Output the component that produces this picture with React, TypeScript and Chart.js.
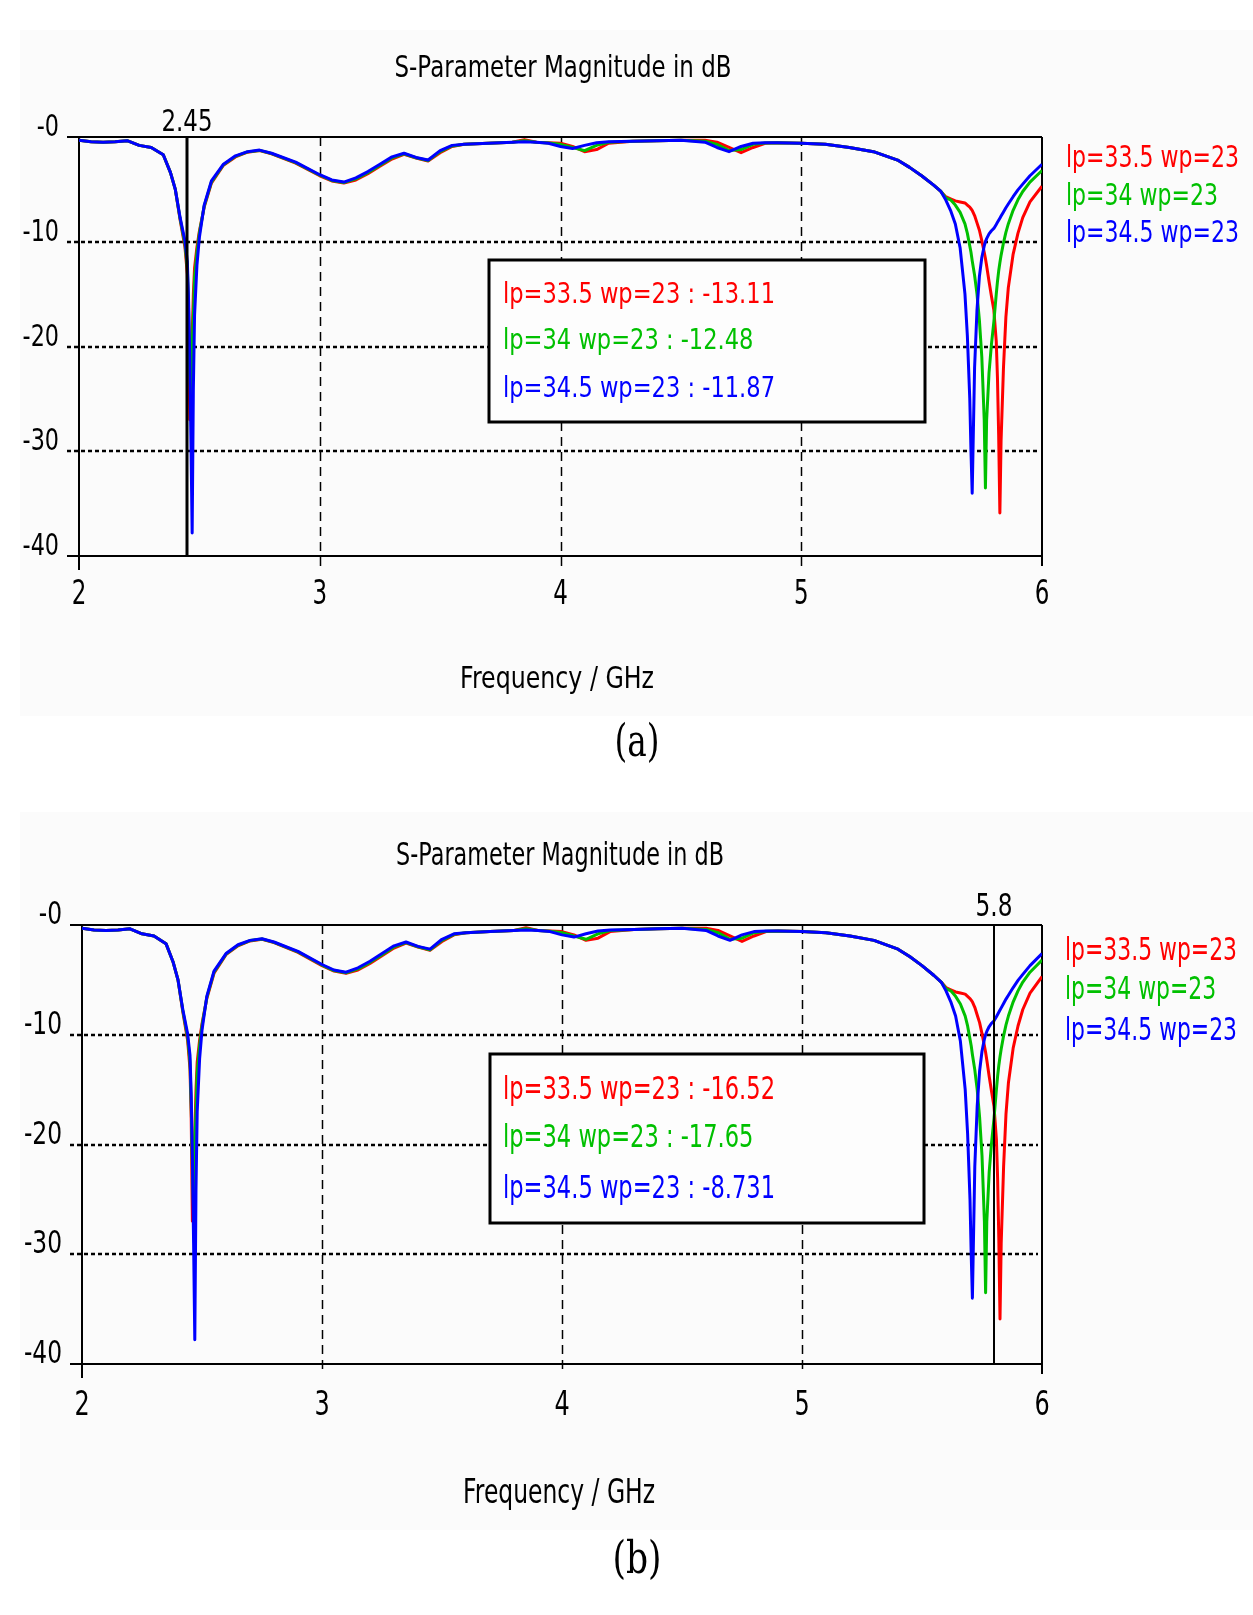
import { useEffect, useRef } from "react";
import { Chart, registerables } from "chart.js";

Chart.register(...registerables);

// Frequency sweep (GHz)
const freqGHz = [
  2.0, 2.05, 2.1, 2.15, 2.2, 2.25, 2.3, 2.35, 2.38, 2.4,
  2.42, 2.44, 2.45, 2.455, 2.46, 2.465, 2.47, 2.475, 2.48, 2.49,
  2.5, 2.52, 2.55, 2.6, 2.65, 2.7, 2.75, 2.8, 2.9, 3.0,
  3.05, 3.1, 3.15, 3.2, 3.25, 3.3, 3.35, 3.4, 3.45, 3.5,
  3.55, 3.6, 3.7, 3.8, 3.85, 3.9, 3.95, 4.0, 4.05, 4.1,
  4.15, 4.2, 4.3, 4.4, 4.5, 4.6, 4.65, 4.7, 4.75, 4.8,
  4.85, 4.9, 5.0, 5.1, 5.2, 5.3, 5.4, 5.45, 5.5, 5.55,
  5.58, 5.6, 5.62, 5.64, 5.66, 5.68, 5.69, 5.7, 5.705, 5.71,
  5.72, 5.73, 5.74, 5.75, 5.76, 5.765, 5.77, 5.78, 5.79, 5.8,
  5.81, 5.815, 5.82, 5.825, 5.83, 5.84, 5.85, 5.86, 5.88, 5.9,
  5.92, 5.95, 6.0,
];

// |S11| in dB, lp = 33.5 mm
const s11Lp335 = [
  -0.3, -0.45, -0.5, -0.45, -0.35, -0.8, -1.0, -1.7, -3.4, -5.0,
  -7.9, -10.5, -13.11, -17.5, -27.0, -23.0, -19.0, -15.0, -12.5, -10.5,
  -9.0, -6.7, -4.4, -2.7, -1.9, -1.45, -1.3, -1.6, -2.5, -3.7,
  -4.2, -4.4, -4.1, -3.5, -2.8, -2.1, -1.65, -2.0, -2.3, -1.5,
  -0.9, -0.7, -0.6, -0.5, -0.25, -0.5, -0.55, -0.6, -0.9, -1.4,
  -1.2, -0.6, -0.4, -0.35, -0.3, -0.3, -0.5, -1.0, -1.5, -1.0,
  -0.6, -0.55, -0.6, -0.7, -1.0, -1.4, -2.2, -2.9, -3.7, -4.6,
  -5.2, -5.7, -5.9, -6.1, -6.2, -6.3, -6.5, -6.7, -6.85, -7.0,
  -7.5, -8.2, -8.9, -9.9, -11.0, -11.6, -12.3, -13.8, -15.2, -16.52,
  -19.5, -23.0, -28.5, -35.9, -29.0, -22.0, -17.2, -14.4, -11.2, -9.2,
  -7.7, -6.2, -4.7,
];

// |S11| in dB, lp = 34 mm
const s11Lp34 = [
  -0.3, -0.45, -0.5, -0.45, -0.35, -0.8, -1.0, -1.7, -3.4, -5.0,
  -7.8, -10.2, -12.48, -16.3, -22.0, -26.0, -20.0, -17.0, -13.5, -11.0,
  -9.2, -6.6, -4.3, -2.65, -1.85, -1.42, -1.28, -1.58, -2.45, -3.65,
  -4.15, -4.35, -4.0, -3.4, -2.7, -2.0, -1.6, -1.98, -2.25, -1.4,
  -0.85, -0.7, -0.6, -0.5, -0.35, -0.5, -0.58, -0.7, -1.0, -1.3,
  -0.8, -0.5, -0.4, -0.35, -0.3, -0.4, -0.7, -1.3, -1.2, -0.7,
  -0.58, -0.55, -0.6, -0.7, -1.0, -1.4, -2.2, -2.9, -3.7, -4.6,
  -5.2, -5.8, -6.0, -6.5, -7.2, -8.3, -9.2, -10.4, -11.0, -11.8,
  -13.2, -15.0, -17.5, -21.0, -27.0, -33.5, -27.0, -22.5, -19.8, -17.65,
  -15.0, -13.8, -12.8, -12.0, -11.3, -10.1, -9.1, -8.3, -7.0, -6.0,
  -5.2, -4.3, -3.2,
];

// |S11| in dB, lp = 34.5 mm
const s11Lp345 = [
  -0.3, -0.45, -0.5, -0.45, -0.35, -0.8, -1.0, -1.7, -3.4, -5.0,
  -7.7, -9.9, -11.87, -15.5, -21.0, -29.0, -37.8, -24.0, -17.0, -12.2,
  -9.6, -6.5, -4.2, -2.6, -1.8, -1.4, -1.25, -1.55, -2.4, -3.6,
  -4.1, -4.3, -3.9, -3.3, -2.6, -1.9, -1.55, -1.95, -2.2, -1.3,
  -0.8, -0.7, -0.6, -0.5, -0.45, -0.5, -0.6, -0.9, -1.1, -0.8,
  -0.55, -0.45, -0.4, -0.35, -0.3, -0.5, -1.0, -1.4, -0.9, -0.6,
  -0.55, -0.55, -0.6, -0.7, -1.0, -1.4, -2.2, -2.9, -3.7, -4.6,
  -5.2, -6.0, -7.0, -8.3, -10.6, -15.0, -19.0, -25.0, -30.0, -34.0,
  -22.0, -16.5, -13.3, -11.5, -10.4, -10.0, -9.7, -9.25, -8.95, -8.731,
  -8.35, -8.15, -7.95, -7.75, -7.55, -7.15, -6.75, -6.4, -5.7, -5.05,
  -4.5, -3.7, -2.6,
];

const seriesNames = ["lp=33.5 wp=23", "lp=34 wp=23", "lp=34.5 wp=23"];
const seriesColors = ["#ff0000", "#00c000", "#0000ff"];

const xTicks = [2, 3, 4, 5, 6];
const xTickLabels = ["2", "3", "4", "5", "6"];
const yTicks = [0, -10, -20, -30, -40];
const yTickLabels = ["-0", "-10", "-20", "-30", "-40"];

const chartTitle = "S-Parameter Magnitude in dB";
const xAxisTitle = "Frequency / GHz";

// Marker readouts
const markerFreqA = 2.45;
const markerValuesA = [-13.11, -12.48, -11.87];
const markerFreqB = 5.8;
const markerValuesB = [-16.52, -17.65, -8.731];

const seriesValues = [s11Lp335, s11Lp34, s11Lp345];

type Align = "left" | "center" | "right";

// Draws text with a tall, narrow look: font size set by cap height, then
// squeezed horizontally either to a target width or by a fixed factor.
function drawText(
  ctx: CanvasRenderingContext2D,
  text: string,
  x: number,
  baseline: number,
  capH: number,
  o: { width?: number; sx?: number; align: Align; color: string; family?: string }
): number {
  const family = o.family ?? '"DejaVu Sans", sans-serif';
  const size = capH / 0.73;
  ctx.font = `${size}px ${family}`;
  const w = ctx.measureText(text).width;
  const sx = o.width ? o.width / w : o.sx ?? 1;
  const dw = w * sx;
  let x0 = x;
  if (o.align === "center") x0 = x - dw / 2;
  else if (o.align === "right") x0 = x - dw;
  ctx.save();
  ctx.translate(x0, baseline);
  ctx.scale(sx, 1);
  ctx.fillStyle = o.color;
  ctx.textAlign = "left";
  ctx.textBaseline = "alphabetic";
  ctx.fillText(text, 0, 0);
  ctx.restore();
  return sx;
}

type PanelLayout = {
  top: number;
  height: number;
  padding: { left: number; right: number; top: number; bottom: number };
  tickLeft: number;
  panelRect: [number, number, number, number];
  title: { x: number; y: number; capH: number; width: number };
  yLabelRight: number;
  yCapH: number;
  xLabelBaseline: number;
  xCapH: number;
  axisTitle: { x: number; y: number; capH: number; width: number };
  marker: { freq: number; values: number[]; labelY: number; capH: number; width: number; lineWidth: number };
  legend: { x: number; ys: number[]; capH: number; width: number };
  box: { x: number; y: number; w: number; h: number; textX: number; ys: number[]; capH: number; width: number };
  caption: { text: string; x: number; y: number; capH: number; width: number };
};

const panels: PanelLayout[] = [
  {
    top: 0,
    height: 785,
    padding: { left: 79, right: 211, top: 137, bottom: 229 },
    tickLeft: 67,
    panelRect: [20, 30, 1233, 686],
    title: { x: 563, y: 77, capH: 22, width: 337 },
    yLabelRight: 59,
    yCapH: 22,
    xLabelBaseline: 604,
    xCapH: 24,
    axisTitle: { x: 557, y: 688, capH: 22, width: 194 },
    marker: { freq: markerFreqA, values: markerValuesA, labelY: 131, capH: 22, width: 51, lineWidth: 3 },
    legend: { x: 1066, ys: [167, 205, 242], capH: 22, width: 173 },
    box: { x: 489, y: 260, w: 436, h: 162, textX: 503, ys: [303, 349, 397], capH: 21, width: 272 },
    caption: { text: "(a)", x: 637, y: 756, capH: 33, width: 45 },
  },
  {
    top: 785,
    height: 830,
    padding: { left: 82, right: 211, top: 140, bottom: 251 },
    tickLeft: 70,
    panelRect: [20, 27, 1233, 718],
    title: { x: 560, y: 80, capH: 23, width: 328 },
    yLabelRight: 62,
    yCapH: 23,
    xLabelBaseline: 630,
    xCapH: 25,
    axisTitle: { x: 559, y: 718, capH: 24, width: 192 },
    marker: { freq: markerFreqB, values: markerValuesB, labelY: 131, capH: 23, width: 37, lineWidth: 2 },
    legend: { x: 1065, ys: [175, 214, 255], capH: 23, width: 172 },
    box: { x: 490, y: 269, w: 434, h: 169, textX: 503, ys: [314, 362, 413], capH: 23, width: 272 },
    caption: { text: "(b)", x: 637, y: 788, capH: 33, width: 49 },
  },
];

function makeDecorPlugin(p: PanelLayout) {
  return {
    id: "sparamDecor",
    beforeDraw(chart: any) {
      const ctx: CanvasRenderingContext2D = chart.ctx;
      ctx.save();
      ctx.fillStyle = "#ffffff";
      ctx.fillRect(0, 0, chart.width, chart.height);
      ctx.fillStyle = "#fbfbfb";
      const [rx, ry, rw, rh] = p.panelRect;
      ctx.fillRect(rx, ry, rw, rh);
      ctx.restore();
    },
    beforeDatasetsDraw(chart: any) {
      const ctx: CanvasRenderingContext2D = chart.ctx;
      const xs = chart.scales.x;
      const ys = chart.scales.y;
      const { left, right, top, bottom } = chart.chartArea;
      ctx.save();
      ctx.strokeStyle = "#000000";
      // horizontal grid: dotted
      ctx.lineWidth = 2.5;
      ctx.setLineDash([4, 3]);
      yTicks.slice(1, -1).forEach((v) => {
        const y = Math.round(ys.getPixelForValue(v));
        ctx.beginPath();
        ctx.moveTo(p.tickLeft, y);
        ctx.lineTo(right - 4, y);
        ctx.stroke();
      });
      // vertical grid: dashed
      ctx.lineWidth = 1.5;
      ctx.setLineDash([9, 6]);
      xTicks.slice(1, -1).forEach((v) => {
        const x = Math.round(xs.getPixelForValue(v)) + 0.5;
        ctx.beginPath();
        ctx.moveTo(x, top);
        ctx.lineTo(x, bottom + 10);
        ctx.stroke();
      });
      // frame
      ctx.setLineDash([]);
      ctx.lineWidth = 2;
      ctx.beginPath();
      ctx.moveTo(p.tickLeft, top);
      ctx.lineTo(right, top);
      ctx.moveTo(p.tickLeft, bottom);
      ctx.lineTo(right, bottom);
      ctx.moveTo(left, top);
      ctx.lineTo(left, bottom + 14);
      ctx.moveTo(right, top);
      ctx.lineTo(right, bottom + 10);
      ctx.stroke();
      ctx.restore();
    },
    afterDatasetsDraw(chart: any) {
      const ctx: CanvasRenderingContext2D = chart.ctx;
      const xs = chart.scales.x;
      const ys = chart.scales.y;
      const { top, bottom } = chart.chartArea;

      // marker line
      const mx = Math.round(xs.getPixelForValue(p.marker.freq));
      ctx.save();
      ctx.strokeStyle = "#000000";
      ctx.lineWidth = p.marker.lineWidth;
      ctx.beginPath();
      ctx.moveTo(mx, top);
      ctx.lineTo(mx, bottom);
      ctx.stroke();
      ctx.restore();
      drawText(ctx, String(p.marker.freq), mx, p.marker.labelY, p.marker.capH, {
        width: p.marker.width,
        align: "center",
        color: "#000000",
      });

      // marker readout box
      ctx.save();
      ctx.fillStyle = "#fdfdfd";
      ctx.fillRect(p.box.x, p.box.y, p.box.w, p.box.h);
      ctx.strokeStyle = "#000000";
      ctx.lineWidth = 3;
      ctx.strokeRect(p.box.x, p.box.y, p.box.w, p.box.h);
      ctx.restore();
      let boxSx = 1;
      seriesNames.forEach((name, i) => {
        const t = `${name} : ${p.marker.values[i]}`;
        if (i === 0) {
          boxSx = drawText(ctx, t, p.box.textX, p.box.ys[i], p.box.capH, {
            width: p.box.width,
            align: "left",
            color: seriesColors[i],
          });
        } else {
          drawText(ctx, t, p.box.textX, p.box.ys[i], p.box.capH, {
            sx: boxSx,
            align: "left",
            color: seriesColors[i],
          });
        }
      });

      // legend
      let legSx = 1;
      seriesNames.forEach((name, i) => {
        if (i === 0) {
          legSx = drawText(ctx, name, p.legend.x, p.legend.ys[i], p.legend.capH, {
            width: p.legend.width,
            align: "left",
            color: seriesColors[i],
          });
        } else {
          drawText(ctx, name, p.legend.x, p.legend.ys[i], p.legend.capH, {
            sx: legSx,
            align: "left",
            color: seriesColors[i],
          });
        }
      });

      // tick labels
      yTicks.forEach((v, i) => {
        const y = ys.getPixelForValue(v);
        drawText(ctx, yTickLabels[i], p.yLabelRight, y - 1, p.yCapH, {
          sx: 0.74,
          align: "right",
          color: "#000000",
        });
      });
      xTicks.forEach((v, i) => {
        const x = xs.getPixelForValue(v);
        drawText(ctx, xTickLabels[i], x, p.xLabelBaseline, p.xCapH, {
          sx: 0.7,
          align: "center",
          color: "#000000",
        });
      });

      // titles
      drawText(ctx, chartTitle, p.title.x, p.title.y, p.title.capH, {
        width: p.title.width,
        align: "center",
        color: "#000000",
      });
      drawText(ctx, xAxisTitle, p.axisTitle.x, p.axisTitle.y, p.axisTitle.capH, {
        width: p.axisTitle.width,
        align: "center",
        color: "#000000",
      });
      drawText(ctx, p.caption.text, p.caption.x, p.caption.y, p.caption.capH, {
        width: p.caption.width,
        align: "center",
        color: "#000000",
        family: '"DejaVu Serif", serif',
      });
    },
  };
}

function SParamPanel({ layout }: { layout: PanelLayout }) {
  const ref = useRef<HTMLCanvasElement | null>(null);

  useEffect(() => {
    const canvas = ref.current;
    if (!canvas) return;
    const datasets = seriesNames.map((name, i) => ({
      label: name,
      data: freqGHz.map((f, k) => ({ x: f, y: seriesValues[i][k] })),
      borderColor: seriesColors[i],
      backgroundColor: seriesColors[i],
      borderWidth: 3,
      pointRadius: 0,
      tension: 0,
      fill: false,
      borderJoinStyle: "round" as const,
      order: 3 - i,
    }));
    const chart = new Chart(canvas, {
      type: "line",
      data: { datasets },
      options: {
        responsive: false,
        animation: false,
        devicePixelRatio: 1,
        layout: { padding: layout.padding, autoPadding: false },
        plugins: {
          legend: { display: false },
          title: { display: false },
          tooltip: { enabled: false },
        },
        scales: {
          x: {
            type: "linear",
            min: 2,
            max: 6,
            grid: { display: false },
            border: { display: false },
            ticks: { display: false },
            afterFit: (s: any) => {
              s.height = 0;
            },
          },
          y: {
            type: "linear",
            min: -40,
            max: 0,
            grid: { display: false },
            border: { display: false },
            ticks: { display: false },
            afterFit: (s: any) => {
              s.width = 0;
            },
          },
        },
      },
      plugins: [makeDecorPlugin(layout)],
    });
    return () => chart.destroy();
  }, [layout]);

  return (
    <canvas
      ref={ref}
      width={1253}
      height={layout.height}
      style={{ position: "absolute", left: 0, top: layout.top, display: "block" }}
    />
  );
}

export default function App() {
  useEffect(() => {
    document.body.style.margin = "0";
  }, []);
  return (
    <div style={{ position: "relative", width: 1253, height: 1615, background: "#ffffff" }}>
      {panels.map((p, i) => (
        <SParamPanel key={i} layout={p} />
      ))}
    </div>
  );
}
